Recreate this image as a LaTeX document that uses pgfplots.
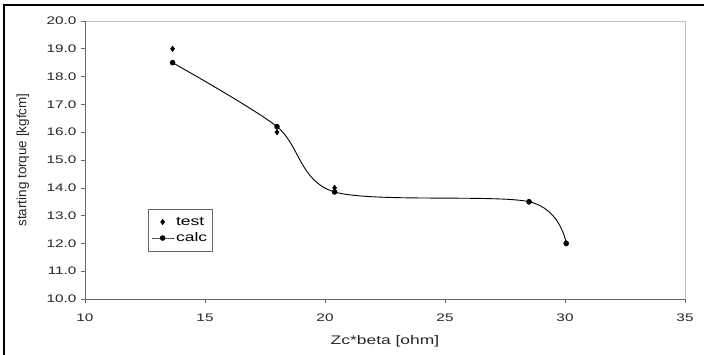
\documentclass[border=0pt]{standalone}
\usepackage{pgfplots}
\pgfplotsset{compat=1.18}
\usepackage{fontspec}
\setmainfont[FakeStretch=1.4]{Liberation Sans}
\newfontfamily\ylfont{Liberation Sans}
\pgfplotsset{
  mymarklegend/.style={legend image code/.code={\draw[##1] plot coordinates {(11bp,0bp)};}},
  mylinelegend/.style={legend image code/.code={\draw[mark repeat=2,mark phase=2,##1] plot coordinates {(0bp,0bp) (11bp,0bp) (22bp,0bp)};}},
}
\begin{document}
\begin{tikzpicture}[x=1bp,y=1bp]
\useasboundingbox (0,0) rectangle (704,354);
\draw[line width=2bp,black] (3.5,-10) -- (3.5,348.5) -- (720,348.5);
\begin{axis}[
  at={(85bp,55bp)}, anchor=south west,
  scale only axis, width=600bp, height=278bp,
  xmin=10, xmax=35, ymin=10, ymax=20,
  xtick={10,15,...,35}, ytick={10,11,...,20},
  /pgf/number format/assume math mode=true,
  yticklabel style={/pgf/number format/fixed,/pgf/number format/precision=1,/pgf/number format/fixed zerofill, xshift=-1bp},
  xticklabel style={yshift=-7bp},
  ticklabel style={font=\fontsize{11}{13}\selectfont, text=black!85},
  tick align=outside, tick pos=left,
  major tick length=4bp,
  every tick/.style={black!60, line width=0.6bp},
  axis line style={draw=none},
  xlabel={Zc*beta [ohm]}, ylabel={\ylfont starting torque [kgfcm]},
  label style={font=\fontsize{12.5}{14}\selectfont, text=black!85},
  xlabel style={at={(axis description cs:0.5,-0.151)}, anchor=center},
  ylabel style={at={(axis description cs:-0.1033,0.5)}, anchor=center, font=\fontsize{13.5}{15}\selectfont},
  legend style={at={(63bp,90bp)}, anchor=north west, draw=black!60, font=\fontsize{12.5}{14}\selectfont, inner xsep=3bp, inner ysep=5.5bp, row sep=1bp, legend cell align=left,
    nodes={inner xsep=2bp, inner ysep=2.5bp}},
  clip=false,
]
\draw[black!25, line width=0.8bp] (axis cs:10,20) -- (axis cs:35,20) -- (axis cs:35,10);
\draw[black!60, line width=0.8bp] (axis cs:10,20) -- (axis cs:10,10) -- (axis cs:35,10);
\addplot[only marks, mark=diamond*, mark size=2.8bp, black, mymarklegend] coordinates {
 (13.65,19.0) (18.0,16.0) (20.4,14.0) (28.5,13.5) (30.05,12.0)};
\addlegendentry{test}
\addplot[smooth, black, line width=0.9bp, mark=*, mark size=2.3bp, mylinelegend] coordinates {
 (13.65,18.5) (18.0,16.2) (20.4,13.85) (28.5,13.5) (30.05,12.0)};
\addlegendentry{calc}
\end{axis}
\end{tikzpicture}
\end{document}
